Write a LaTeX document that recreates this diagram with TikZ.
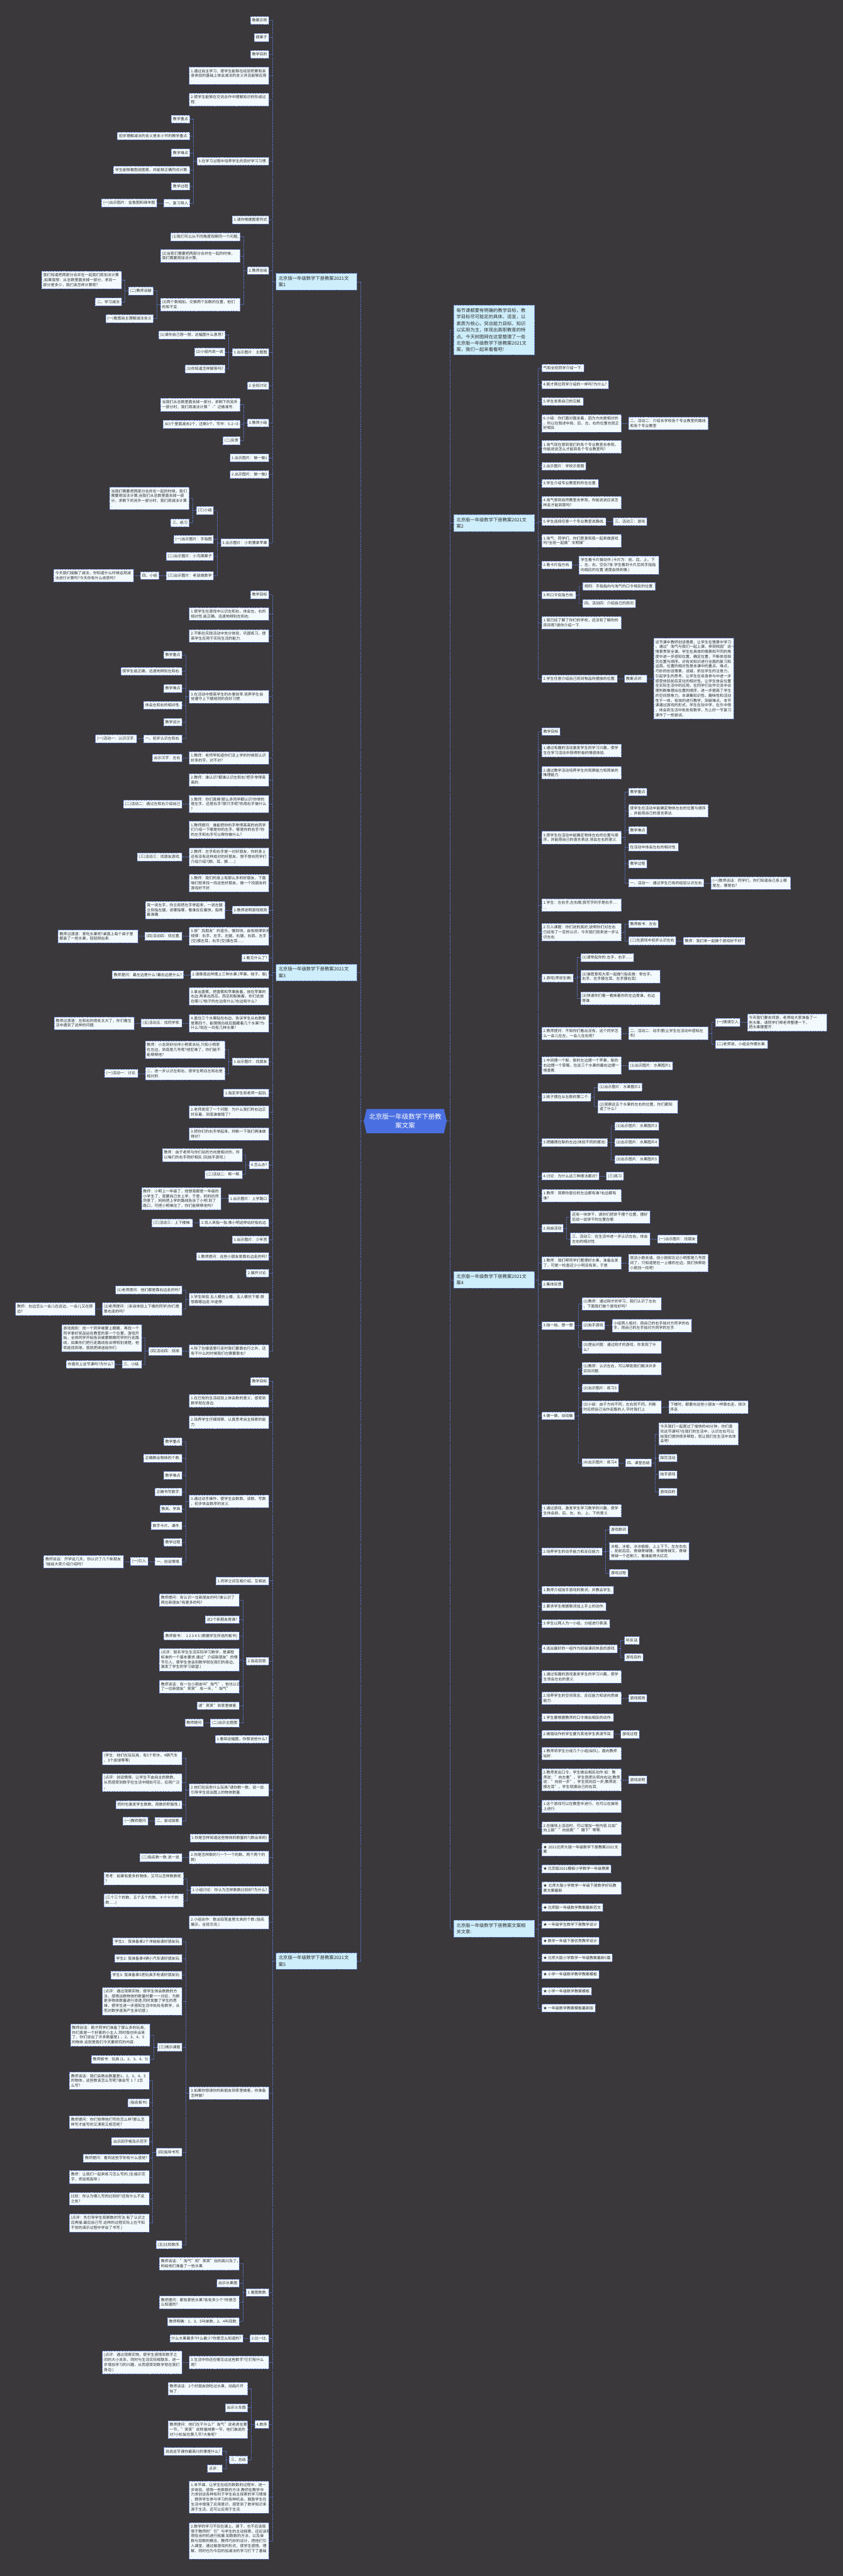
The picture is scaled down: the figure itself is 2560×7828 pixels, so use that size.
\documentclass[tikz,border=0pt]{standalone}
\usepackage{fontspec}
\setmainfont{Noto Sans CJK SC}
\usetikzlibrary{shapes.symbols}
\definecolor{bgc}{RGB}{58,56,58}
\definecolor{lnkblue}{RGB}{92,120,215}
\definecolor{leaffill}{RGB}{242,250,253}
\definecolor{brfill}{RGB}{206,238,251}
\definecolor{rootblue}{RGB}{74,111,224}
\definecolor{txtc}{RGB}{45,45,45}
\tikzset{
  leaf/.style={draw=lnkblue, dash pattern=on 3pt off 2pt, line width=0.8pt, fill=leaffill, text=txtc,
               font=\fontsize{11.5}{14.8}\selectfont, inner xsep=5pt, inner ysep=6.5pt, align=left},
  lf/.style={leaf, anchor=east, xshift=-21pt},
  rf/.style={leaf, anchor=west, xshift=21pt},
  wd/.style={text width=232pt},
  branch/.style={draw=lnkblue, dash pattern=on 3pt off 2pt, line width=0.8pt, fill=brfill, text=txtc,
                 font=\fontsize{14}{20}\selectfont, inner xsep=8pt, inner ysep=9pt, align=left, text width=229pt},
  lbr/.style={branch, anchor=east, xshift=-21pt},
  rbr/.style={branch, anchor=west, xshift=21pt},
  root/.style={signal, signal to=east and west, signal pointer angle=154, fill=rootblue, text=white,
               font=\fontsize{20}{26}\selectfont, align=center, inner xsep=7.5pt, inner ysep=14.5pt},
  lnk/.style={draw=lnkblue, dash pattern=on 3pt off 2pt, line width=1pt}
}
\begin{document}
\begin{tikzpicture}[x=1pt, y=-1pt]
\fill[bgc] (0,0) rectangle (2560,7828);
\useasboundingbox (0,0) rectangle (2560,7828);
\node[root] (root) at (1231,3407) {北京版一年级数学下册教\\案文案};
\node[lbr] (bA) at (root.west |- 0,856) {北京版一年级数学下册教案2021文\\案1};
\node[lbr] (bC) at (root.west |- 0,2955) {北京版一年级数学下册教案2021文\\案3};
\node[lbr] (bE) at (root.west |- 0,5959) {北京版一年级数学下册教案2021文\\案5};
\node[rbr] (bO) at (root.east |- 0,1003) {每节课都要有明确的教学目标，教\\学目标尽可能定的具体、适宜，以\\素质为核心，突出能力目标、知识\\以实用为主，体现出高职教育的特\\点。今天树图网在这里整理了一些\\北京版一年级数学下册教案2021文\\案，我们一起来看看吧!};
\node[rbr] (bB) at (root.east |- 0,1589) {北京版一年级数学下册教案2021文\\案2};
\node[rbr] (bD) at (root.east |- 0,3889) {北京版一年级数学下册教案2021文\\案4};
\node[rbr] (bF) at (root.east |- 0,5861) {北京版一年级数学下册教案文案相\\关文章:};

\node[lf] (A1) at (bA.west |- 0,62) {教案示例};
\node[lf] (A2) at (bA.west |- 0,114) {摘果子};
\node[lf] (A3) at (bA.west |- 0,165) {教学目的};
\node[lf, wd] (A4) at (bA.west |- 0,230) {1.通过自主学习，使学生能够在经验积累和亲\\身体验的基础上体会减法的含义并且能够应用\\.};
\node[lf, wd] (A5) at (bA.west |- 0,303) {2.使学生能够在交流合作中理解知识的形成过\\程.};
\node[lf] (A6) at (bA.west |- 0,490) {3.在学习过程中培养学生的良好学习习惯.};
\node[lf] (A6a) at (A6.west |- 0,362) {教学重点};
\node[lf] (A6b) at (A6.west |- 0,413) {初步理解减法的含义是本小节的教学重点.};
\node[lf] (A6c) at (A6.west |- 0,464) {教学难点};
\node[lf] (A6d) at (A6.west |- 0,516) {学生能够看图说图意，并能够正确列式计算.};
\node[lf] (A6e) at (A6.west |- 0,566) {教学过程};
\node[lf] (A6f) at (A6.west |- 0,617) {一、复习导入};
\node[lf] (A6f1) at (A6f.west |- 0,617) {(一)出示图片：金鱼图和绵羊图};
\node[lf] (A7) at (bA.west |- 0,668) {1.请你根据图意列式};
\node[lf] (A8) at (bA.west |- 0,822) {2.教师总结};
\node[lf] (A8a) at (A8.west |- 0,720) {(1)我们可以从不同角度观察同一个问题;};
\node[lf, wd] (A8b) at (A8.west |- 0,778) {(2)当我们需要把两部分合并在一起的时候，\\我们需要用加法计算;};
\node[lf, wd] (A8c) at (A8.west |- 0,926) {(3)两个数相加，交换两个加数的位置，他们\\的和不变.};
\node[lf] (A8c1) at (A8c.west |- 0,884) {(二)教师设疑};
\node[lf, wd] (A8c1a) at (A8c1.west |- 0,851) {我们知道把两部分合并在一起我们用加法计算\\;如果我想：从总数里面去掉一部分，求另一\\部分是多少，我们该怎样计算呢?};
\node[lf] (A8c1b) at (A8c1.west |- 0,917) {二、学习减法};
\node[lf] (A8c2) at (A8c.west |- 0,968) {(一)看图自主理解减法含义};
\node[lf] (A9) at (bA.west |- 0,1070) {1.出示图片：主题图};
\node[lf] (A9a) at (A9.west |- 0,1018) {(1)请你自己想一想，这幅图什么意思?};
\node[lf] (A9b) at (A9.west |- 0,1070) {(2)小组内说一说};
\node[lf] (A9c) at (A9.west |- 0,1121) {(3)你知道怎样解答吗?};
\node[lf] (A10) at (bA.west |- 0,1172) {2.全班讨论};
\node[lf] (A11) at (bA.west |- 0,1285) {3.教师小结};
\node[lf, wd] (A11a) at (A11.west |- 0,1230) {当我们从总数里面去掉一部分，求剩下的另外\\一部分时，我们用减法计算."-"记做减号.};
\node[lf] (A11b) at (A11.west |- 0,1289) {从5个里面减去2个，还剩3个，写作：5-2 =3};
\node[lf] (A11c) at (A11.west |- 0,1339) {(二)反馈};
\node[lf] (A12) at (bA.west |- 0,1391) {1.出示图片：做一做1};
\node[lf] (A13) at (bA.west |- 0,1442) {2.出示图片：做一做2};
\node[lf] (A14) at (bA.west |- 0,1649) {3.出示图片：小刺猬拿苹果};
\node[lf] (A14a) at (A14.west |- 0,1551) {(三)小结};
\node[lf, wd] (A14a1) at (A14a.west |- 0,1514) {当我们需要把两部分合并在一起的时候，我们\\需要用加法计算;当我们从总数里面去掉一部\\分，求剩下的另外一部分时，我们用减法计算\\.};
\node[lf] (A14a2) at (A14a.west |- 0,1589) {三、练习};
\node[lf] (A14b) at (A14.west |- 0,1639) {(一)出示图片：手指图};
\node[lf] (A14c) at (A14.west |- 0,1690) {(二)出示图片：小鸟摘果子};
\node[lf] (A14d) at (A14.west |- 0,1749) {(三)出示图片：老鼠做数学};
\node[lf] (A14d1) at (A14d.west |- 0,1749) {四、小结};
\node[lf, wd] (A14d1a) at (A14d1.west |- 0,1749) {今天我们接触了减法，你知道什么时候运用减\\法进行计算吗?今天你有什么收获吗?};

\node[lf] (C1) at (bC.west |- 0,1807) {教学目标};
\node[lf, wd] (C2) at (bC.west |- 0,1865) {1.使学生在游戏中认识左和右，体会左、右的\\相对性.能正确、迅速地辨别左和右.};
\node[lf, wd] (C3) at (bC.west |- 0,1932) {2.不断在实践活动中充分体验，巩固练习，提\\高学生应用于实际生活的能力.};
\node[lf, wd] (C4) at (bC.west |- 0,2117) {3.在活动中提高学生的办事效率.培养学生自\\觉遵守上下楼规则的良好习惯.};
\node[lf] (C4a) at (C4.west |- 0,1990) {教学重点};
\node[lf] (C4b) at (C4.west |- 0,2040) {使学生能正确、迅速地辨别左和右.};
\node[lf] (C4c) at (C4.west |- 0,2092) {教学难点};
\node[lf] (C4d) at (C4.west |- 0,2143) {体会左和右的相对性.};
\node[lf] (C4e) at (C4.west |- 0,2194) {教学设计};
\node[lf] (C4f) at (C4.west |- 0,2245) {一、初步认识左和右.};
\node[lf] (C4f1) at (C4f.west |- 0,2245) {(一)活动一：认识汉字.};
\node[lf, wd] (C5) at (bC.west |- 0,2303) {1.教师：老师早知道你们没上学的时候就认识\\好多的字，对不对?};
\node[lf] (C5a) at (C5.west |- 0,2303) {出示汉字：左右};
\node[lf, wd] (C6) at (bC.west |- 0,2370) {2.教师：谁认识?都谁认识左和右?把手举得高\\高的.};
\node[lf, wd] (C7) at (bC.west |- 0,2443) {3.教师：你们真棒!那么多同学都认识!你举的\\是左手，还是右手?那只手呢?你用右手做什么\\?};
\node[lf] (C7a) at (C7.west |- 0,2443) {(二)活动二：通过左和右介绍自己};
\node[lf, wd] (C8) at (bC.west |- 0,2522) {1.教师提问：谁能把你的手举得高高的向同学\\们介绍一下哪是你的左手，哪是你的右手?你\\的左手和右手可以帮你做什么?};
\node[lf, wd] (C9) at (bC.west |- 0,2604) {2.教师：左手和右手是一对好朋友，你的身上\\还有没有这样成对的好朋友，想不想向同学们\\介绍介绍?(眼、耳、脚......)};
\node[lf] (C9a) at (C9.west |- 0,2604) {(三)活动三：找朋友游戏.};
\node[lf, wd] (C10) at (bC.west |- 0,2684) {1.教师：我们的身上有那么多的好朋友，下面\\咱们就来找一找这些好朋友，做一个找朋友的\\游戏好不好.};
\node[lf] (C11) at (bC.west |- 0,2765) {2.教师说明游戏规则};
\node[lf, wd] (C11a) at (C11.west |- 0,2765) {我一说左手，你立刻把左手举起来，一说左腿\\立刻指左腿，说哪指哪，看谁反应最快，指得\\最准确.};
\node[lf, wd] (C12) at (bC.west |- 0,2845) {3.放"找朋友"的音乐，慢到快，由有规律到无\\规律：右手、左手、左腿、右腿、右肩、左手\\(空)摸左耳，右手(空)摸左耳......};
\node[lf] (C12a) at (C12.west |- 0,2845) {(四)活动四：找位置.};
\node[lf, wd] (C12a1) at (C12a.west |- 0,2845) {教师过渡语：爱吃水果吧?桌面上每个袋子里\\都装了一些水果，轻轻倒出来.};
\node[lf] (C13) at (bC.west |- 0,2911) {1.看见什么了?};
\node[lf] (C14) at (bC.west |- 0,2962) {2.请像我这样摆上三种水果.(苹果、桔子、梨)};
\node[lf] (C14a) at (C14.west |- 0,2962) {教师提问：最左边是什么?最右边是什么?};
\node[lf, wd] (C15) at (bC.west |- 0,3028) {3.拿出香蕉，把香蕉和苹果挨着，放在苹果的\\右边.再拿出西瓜，西瓜和梨挨着，你们说放\\在哪儿?桔子的左边有什么?右边有什么?};
\node[lf, wd] (C16) at (bC.west |- 0,3109) {4.盖住三个水果贴在右边，告诉学生从右数梨\\是第四个，能猜猜白纸后面藏着几个水果?为\\什么?现在一共有几种水果?};
\node[lf] (C16a) at (C16.west |- 0,3109) {(五)活动五：找同学家.};
\node[lf, wd] (C16a1) at (C16a.west |- 0,3109) {教师过渡语：左和右的用处太大了，你们看生\\活中遇到了这样的问题.};
\node[lf] (C17) at (bC.west |- 0,3226) {1.出示图片：找朋友};
\node[lf, wd] (C17a) at (C17.west |- 0,3190) {教师：小龙到好伙伴小明家去玩.只知小明家\\在左边，到底是几号呢?他犯难了，你们能不\\能帮帮他?};
\node[lf, wd] (C17b) at (C17.west |- 0,3262) {二、进一步认识左和右，使学生明白左和右是\\相对的.};
\node[lf] (C17b1) at (C17b.west |- 0,3262) {(一)活动一：讨论.};
\node[lf] (C18) at (bC.west |- 0,3321) {1.指定学生和老师一起玩.};
\node[lf, wd] (C19) at (bC.west |- 0,3379) {2.老师发现了一个问题：为什么我们的右边正\\好反着，到底谁做错了?};
\node[lf, wd] (C20) at (bC.west |- 0,3446) {3.把你们的右手举起来，判断一下我们俩谁做\\得对?};
\node[lf] (C21) at (bC.west |- 0,3540) {4.怎么办?};
\node[lf, wd] (C21a) at (C21.west |- 0,3510) {教师：由于老师与你们站的方向是相对的，所\\以咱们的右手刚好相反.(玩拍手游戏.)};
\node[lf] (C21b) at (C21.west |- 0,3569) {(二)活动二：帮一帮.};
\node[lf] (C22) at (bC.west |- 0,3642) {1.出示图片：上学路口};
\node[lf, wd] (C22a) at (C22.west |- 0,3642) {教师：小明上一年级了，他想我都是一年级的\\小学生了，我要自己去上学，于是，妈妈欣然\\同意了，妈妈把上学的路线告诉了小明.到了\\路口，可把小明难住了，你们能帮帮他吗?};
\node[lf] (C23) at (bC.west |- 0,3716) {2.找人来指一指.像小明这样站好指右边.};
\node[lf] (C23a) at (C23.west |- 0,3716) {(三)活动三：上下楼梯.};
\node[lf] (C24) at (bC.west |- 0,3767) {1.出示图片：少年宫};
\node[lf] (C25) at (bC.west |- 0,3818) {1.教师提问：这些小朋友是靠右边走的吗?};
\node[lf] (C26) at (bC.west |- 0,3869) {2.展开讨论.};
\node[lf, wd] (C27) at (bC.west |- 0,3949) {3.学生体验.五人模仿上楼，五人模仿下楼.想\\想靠哪边走.中途停.};
\node[lf] (C27a) at (C27.west |- 0,3920) {(1)老师提问：他们都是靠右边走的吗?};
\node[lf, wd] (C27b) at (C27.west |- 0,3978) {(2)老师提问：(亲自体验上下楼的同学)你们是\\靠右走的吗?};
\node[lf, wd] (C27b1) at (C27b.west |- 0,3978) {教师：右边怎么一会儿在这边，一会儿又在那\\边?};
\node[lf, wd] (C28) at (bC.west |- 0,4106) {4.除了在楼道里行走时我们要靠右行之外，还\\有干什么的时候我们也需要靠右?};
\node[lf] (C28a) at (C28.west |- 0,4106) {(四)活动四：找球.};
\node[lf, wd] (C28a1) at (C28a.west |- 0,4066) {游戏规则：找一个同学被蒙上眼睛，再找一个\\同学拿好奖品站在教室的某一个位置，游戏开\\始，全体同学开始告诉被蒙眼睛同学的行走路\\线，如果你们把行走路线告诉得特别清楚，他\\就能找到球，我就把球送给你们.};
\node[lf] (C28a2) at (C28a.west |- 0,4146) {三、小结.};
\node[lf] (C28a2a) at (C28a2.west |- 0,4146) {你喜欢上这节课吗?为什么?};

\node[lf] (E1) at (bE.west |- 0,4198) {教学目标};
\node[lf, wd] (E2) at (bE.west |- 0,4257) {1.在已有的生活经验上体会数的意义，感受到\\数学就在身边.};
\node[lf, wd] (E3) at (bE.west |- 0,4322) {2.培养学生仔细观察、认真思考自主探索的能\\力.};
\node[lf, wd] (E4) at (bE.west |- 0,4562) {3.通过动手操作，使学生会数数、读数、写数\\，初步体会数序的含义.};
\node[lf] (E4a) at (E4.west |- 0,4381) {教学重点};
\node[lf] (E4b) at (E4.west |- 0,4431) {正确数出物体的个数.};
\node[lf] (E4c) at (E4.west |- 0,4483) {教学难点};
\node[lf] (E4d) at (E4.west |- 0,4534) {正确书写数字.};
\node[lf] (E4e) at (E4.west |- 0,4585) {教具、学具};
\node[lf] (E4f) at (E4.west |- 0,4636) {数字卡片、课件.};
\node[lf] (E4g) at (E4.west |- 0,4687) {教学过程};
\node[lf] (E4h) at (E4.west |- 0,4745) {一、创设情境.};
\node[lf] (E4h1) at (E4h.west |- 0,4745) {(一)引入};
\node[lf, wd] (E4h1a) at (E4h1.west |- 0,4745) {教师谈话：开学这几天，你认识了几个新朋友\\?能给大家介绍介绍吗?};
\node[lf] (E5) at (bE.west |- 0,4804) {1.同学之间互相介绍、互相说.};
\node[lf] (E6) at (bE.west |- 0,5048) {2.指名回答.};
\node[lf, wd] (E6a) at (E6.west |- 0,4862) {教师提问：有认识一位新朋友的吗?谁认识了\\两位新朋友?有更多的吗?};
\node[lf] (E6b) at (E6.west |- 0,4921) {这2个新朋友是谁?};
\node[lf] (E6c) at (E6.west |- 0,4971) {教师板书：\ \ 1 2 3 4 5 (根据学生所说的板书)};
\node[lf, wd] (E6d) at (E6.west |- 0,5044) {(点评：联系学生生活实际学习数学，是课程\\标准的一个基本要求.通过"介绍新朋友"的情\\节引入，使学生体会到数学就在我们的身边，\\激发了学生的学习欲望.)};
\node[lf, wd] (E6e) at (E6.west |- 0,5125) {教师谈话：有一位小朋友叫"淘气"，他也认识\\了一位新朋友"笑笑".有一天，"淘气"};
\node[lf] (E6f) at (E6.west |- 0,5183) {请"笑笑"到家里做客.};
\node[lf] (E6g) at (E6.west |- 0,5235) {(二)出示主题图};
\node[lf] (E6g1) at (E6g.west |- 0,5235) {教师提问};
\node[lf] (E7) at (bE.west |- 0,5285) {1.看到这幅图，你想说些什么?};
\node[lf, wd] (E8) at (bE.west |- 0,5439) {2.他们在玩些什么玩具?请你数一数，说一说.\\引导学生说出图上的物体数量.};
\node[lf, wd] (E8a) at (E8.west |- 0,5343) {(学生：他们在玩玩具，有5个积木、4辆汽车\\、3个皮球等等)};
\node[lf, wd] (E8b) at (E8.west |- 0,5417) {(点评：创设情境，让学生不由自主的数数，\\从而感受到数字在生活中随处可见，应用广泛\\，};
\node[lf] (E8c) at (E8.west |- 0,5484) {同时也激发学生数数、用数的积极性.)};
\node[lf] (E8d) at (E8.west |- 0,5534) {二、尝试探索.};
\node[lf] (E8d1) at (E8d.west |- 0,5534) {(一)教师提问};
\node[lf] (E9) at (bE.west |- 0,5586) {1.你是怎样知道这些物体的数量的?(数出来的)};
\node[lf, wd] (E10) at (bE.west |- 0,5644) {2.你是怎样数的?(一个一个的数、两个两个的\\数)};
\node[lf] (E10a) at (E10.west |- 0,5644) {(二)指名数一数.说一说.};
\node[lf] (E11) at (bE.west |- 0,5743) {1.小组讨论：你认为怎样数数比较好?为什么?};
\node[lf, wd] (E11a) at (E11.west |- 0,5709) {思考：如果有更多的物体，又可以怎样数数呢\\?};
\node[lf, wd] (E11b) at (E11.west |- 0,5775) {(三个三个的数、五个五个的数、十个十个的\\数......)};
\node[lf, wd] (E12) at (bE.west |- 0,5841) {2.小组合作：数出铅笔盒里文具的个数.(指名\\展示，全班交流.)};
\node[lf, wd] (E13) at (bE.west |- 0,6360) {3.如果你想请你的新朋友到家里做客，你准备\\怎样做?};
\node[lf] (E13a) at (E13.west |- 0,5900) {学生1：我准备拿2个洋娃娃请好朋友玩.};
\node[lf] (E13b) at (E13.west |- 0,5951) {学生2: 我准备拿4辆小汽车请好朋友玩.};
\node[lf] (E13c) at (E13.west |- 0,6002) {学生3: 我准备拿5把玩具手枪请好朋友玩.};
\node[lf, wd] (E13d) at (E13.west |- 0,6081) {(点评：通过观察实物，使学生体会数数的方\\法，感悟出数物体的数量时要一一对应，为数\\更多物体数量进行渗透.同时发散了学生的思\\维，使学生进一步感知生活中处处有数学，从\\而对数学逐渐产生亲切感.)};
\node[lf] (E13e) at (E13.west |- 0,6221) {(三)揭示课题};
\node[lf, wd] (E13e1) at (E13e.west |- 0,6184) {教师谈话：刚才同学们准备了那么多的玩具，\\你们真是一个好客的小主人.同时我也听出来\\了，你们说出了许多数量是1~、2、3、4、5\\的物体.这就是我们今天要研究的内容.};
\node[lf] (E13e2) at (E13e.west |- 0,6258) {教师板书：玩具 (1、2、3、4、5)};
\node[lf] (E13f) at (E13.west |- 0,6540) {(四)指导书写.};
\node[lf, wd] (E13f1) at (E13f.west |- 0,6323) {教师谈话：我们会数出数量是1、2、3、4、5\\的物体，这些数该怎么写呢?谁会写~1~?~2怎\\么写?};
\node[lf] (E13f2) at (E13f.west |- 0,6390) {(指名板书)};
\node[lf, wd] (E13f3) at (E13f.west |- 0,6449) {教师提问：你们觉得他们写的怎么样?那么怎\\样写才能写的又漂亮又规范呢?};
\node[lf] (E13f4) at (E13f.west |- 0,6507) {出示田字格及示范字};
\node[lf] (E13f5) at (E13f.west |- 0,6558) {教师提问：看到这些字你有什么感觉?};
\node[lf, wd] (E13f6) at (E13f.west |- 0,6616) {教师：让我们一起来练习怎么写的.(生描示范\\字，师巡视指导.)};
\node[lf, wd] (E13f7) at (E13f.west |- 0,6681) {比较：你认为哪儿写的比较好?还有什么不足\\之处?};
\node[lf, wd] (E13f8) at (E13f.west |- 0,6755) {(点评：先引导学生观察数的写法.有了认识之\\后再描.最后自己写.这样的过程实际上在不知\\不觉的演示过程中学会了书写.)};
\node[lf] (E13g) at (E13.west |- 0,6821) {(五)比较数序.};
\node[lf] (E14) at (bE.west |- 0,6966) {1.看图数数.};
\node[lf, wd] (E14a) at (E14.west |- 0,6879) {教师谈话："淘气"和"笑笑"玩的高兴及了，妈\\妈给他们准备了一些水果.};
\node[lf] (E14b) at (E14.west |- 0,6938) {出示水果图};
\node[lf, wd] (E14c) at (E14.west |- 0,6996) {教师提问：都有那些水果?各有多少个?你是怎\\么知道的?};
\node[lf] (E14d) at (E14.west |- 0,7055) {教师明确：1、3、5叫单数，2、4叫双数.};
\node[lf] (E15) at (bE.west |- 0,7106) {2.比一比.};
\node[lf] (E15a) at (E15.west |- 0,7106) {什么水果最多?什么最少?你是怎么知道的?};
\node[lf, wd] (E16) at (bE.west |- 0,7179) {3.生活中你还在哪见过这些数字?它们有什么\\用?};
\node[lf, wd] (E16a) at (E16.west |- 0,7179) {(点评：通过观察实物，使学生感悟到数字之\\间的大小关系，同时与生活实际相联系，进一\\步增加学习的兴趣，从而感受到数学就在我们\\身边.)};
\node[lf] (E17) at (bE.west |- 0,7367) {4.数序};
\node[lf, wd] (E17a) at (E17.west |- 0,7259) {教师谈话：2个好朋友刚吃过水果，动画片开\\始了.};
\node[lf] (E17b) at (E17.west |- 0,7317) {出示火车图};
\node[lf, wd] (E17c) at (E17.west |- 0,7383) {教师提问：他们在干什么?"淘气"说老虎在第\\一节，"笑笑"说熊猫排第一节，他们谁说的\\对?小松鼠在第几节?大象呢?};
\node[lf] (E17d) at (E17.west |- 0,7475) {三、总结};
\node[lf] (E17d1) at (E17d.west |- 0,7449) {说说这节课你最高兴的事是什么?};
\node[lf] (E17d2) at (E17d.west |- 0,7501) {点评：};
\node[lf, wd] (E18) at (bE.west |- 0,7588) {1.本节课，让学生在经历数数的过程中，进一\\步体验、感悟一些数数的方法.教师在教学中\\力求创设各种有利于学生自主探索的学习情境\\，提供学生参与学习的各种机会，鼓励学生在\\生活中增强了应用意识，感受到了数学知识来\\源于生活，还可以应用于生活.};
\node[lf, wd] (E19) at (bE.west |- 0,7721) {2.数学的学习不仅在课上、课下，也不应该局\\限于教师的"引"与学生的主动探索，还应该利\\用恰当时机进行拓展.如数数的方法，以及单\\数与双数的概念，教师巧妙的设计，把他们引\\入课堂，通过做游戏的形式，使学生感悟、理\\解，同时也为今后的加减法的学习打下了基础\\.};

\node[rf] (B1) at (bB.east |- 0,1118) {气和全班同学介绍一下.};
\node[rf] (B2) at (bB.east |- 0,1169) {4.刚才两位同学介绍的一样吗?为什么?};
\node[rf] (B3) at (bB.east |- 0,1220) {5.学生发表自己的见解.};
\node[rf, wd] (B4) at (bB.east |- 0,1286) {6.小结：你们面对面坐着，因为方向是相对的\\，所以在叙述中前、后、左、右的位置也就正\\好相反.};
\node[rf, wd] (B4a) at (B4.east |- 0,1286) {二、活动二：介绍去学校各个专业教室的路线\\和各个专业教室};
\node[rf, wd] (B5) at (bB.east |- 0,1358) {1.淘气现在想到我们的各个专业教室去参观，\\你能说说怎么才能到各个专业教室吗?};
\node[rf] (B6) at (bB.east |- 0,1417) {2.出示图片：学校示意图};
\node[rf] (B7) at (bB.east |- 0,1469) {3.学生介绍专业教室的所在位置.};
\node[rf, wd] (B8) at (bB.east |- 0,1527) {4.淘气想到自然教室去参观，你能说说应该怎\\样走才能到那吗?};
\node[rf] (B9) at (bB.east |- 0,1585) {5.学生选择任意一个专业教室说路线.};
\node[rf] (B9a) at (B9.east |- 0,1585) {三、活动三：游戏};
\node[rf, wd] (B10) at (bB.east |- 0,1643) {1.淘气：同学们，你们愿意和我一起来做游戏\\吗?全班一起做"文明操".};
\node[rf] (B11) at (bB.east |- 0,1717) {2.看卡片指方向.};
\node[rf, wd] (B11a) at (B11.east |- 0,1717) {学生看卡片做动作.(卡片为：前、后、上、下\\、左、右、空白7张.学生看到卡片后将手指指\\向相应的位置.速度由快到慢.)};
\node[rf] (B12) at (bB.east |- 0,1808) {3.听口令反指方向.};
\node[rf] (B12a) at (B12.east |- 0,1782) {规则：手指指向与淘气的口令相反的位置.};
\node[rf] (B12b) at (B12.east |- 0,1834) {四、活动四：介绍自己的房间};
\node[rf, wd] (B13) at (bB.east |- 0,1892) {1.我已经了解了你们的学校，还没有了解你的\\房间呢?请你介绍一下.};
\node[rf] (B14) at (bB.east |- 0,2062) {2.学生任意介绍自己房间物品所摆放的位置.};
\node[rf] (B14a) at (B14.east |- 0,2062) {教案点评：};
\node[rf, wd] (B14a1) at (B14a.east |- 0,2062) {这节课中教师创设情景，让学生在情景中学习\\。通过"淘气与我们一起上课，参观校园"这一\\情景贯穿全课。学生在具体的情景和不同的角\\度中进一步感知位置、确定位置，不断体验探\\究位置与顺序。对有关知识进行全面的复习和\\运用。位置的相对性是本课中的重点、难点，\\巧妙的创设情景，设疑，抓住学生的注意力，\\引起学生的思考，让学生在亲身参与中进一步\\感受体验前后变化的相对性。让学生体会位置\\在实际生活中的应用，在同学们合作交流中合\\理判断推理出位置的顺序，进一步提高了学生\\的空间想象力。本课集知识性、趣味性和活动\\性于一体，有效的进行教学，突破难点。本节\\课通过游戏的形式，学生在玩中学，在乐中悟\\，体会到生活中处处有数学，为上好一节复习\\课作了一些尝试。};

\node[rf] (D1) at (bD.east |- 0,2223) {教学目标};
\node[rf, wd] (D2) at (bD.east |- 0,2281) {1.通过有趣的活动激发学生的学习兴趣，使学\\生在学习活动中获得积极的情感体验.};
\node[rf, wd] (D3) at (bD.east |- 0,2348) {2.通过教学活动培养学生的观察能力和简单的\\推理能力.};
\node[rf, wd] (D4) at (bD.east |- 0,2545) {3.使学生在活动中能确定物体左右的位置与顺\\序，并能用自己的语言表达.领会左右的意义.};
\node[rf] (D4a) at (D4.east |- 0,2406) {教学重点};
\node[rf, wd] (D4b) at (D4.east |- 0,2464) {使学生在活动中能确定物体左右的位置与顺序\\，并能用自己的语言表达.};
\node[rf] (D4c) at (D4.east |- 0,2523) {教学难点};
\node[rf] (D4d) at (D4.east |- 0,2574) {在活动中体会左右的相对性.};
\node[rf] (D4e) at (D4.east |- 0,2625) {教学过程};
\node[rf] (D4f) at (D4.east |- 0,2683) {一、活动一：通过学生已有的经验认识左右};
\node[rf, wd] (D4f1) at (D4f.east |- 0,2683) {(一)教师谈话：同学们，你们知道自己身上哪\\是左，哪是右?};
\node[rf, wd] (D5) at (bD.east |- 0,2750) {1.学生：左右手;左右眼;我写字的手是右手....\\...};
\node[rf, wd] (D6) at (bD.east |- 0,2833) {2.引入课题：你们说的真好,说明你们对左右\\已经有了一定的认识，今天我们就来进一步认\\识左右.};
\node[rf] (D6a) at (D6.east |- 0,2808) {教师板书：左右};
\node[rf] (D6b) at (D6.east |- 0,2859) {(二)在游戏中初步认识左右};
\node[rf] (D6b1) at (D6b.east |- 0,2859) {教师：我们来一起做个游戏好不好?};
\node[rf] (D7) at (bD.east |- 0,2972) {1.游戏(师说生做)};
\node[rf] (D7a) at (D7.east |- 0,2910) {(1)请举起你的.左手，右手......};
\node[rf, wd] (D7b) at (D7.east |- 0,2968) {(2)谁愿意和大家一起做?(指名做：举左手、\\右手、左手摸左耳、左手摸右耳)};
\node[rf, wd] (D7c) at (D7.east |- 0,3034) {(3)快请你们看一看挨着你的左边是谁，右边\\是谁.};
\node[rf, wd] (D8) at (bD.east |- 0,3140) {2.教师提问：不知你们看出没有，这个同学怎\\么一会儿在左，一会儿在右呢?};
\node[rf, wd] (D8a) at (D8.east |- 0,3140) {二、活动二：动手摆(让学生在活动中感知左\\右)};
\node[rf] (D8a1) at (D8a.east |- 0,3107) {(一)情境引入};
\node[rf, wd] (D8a1a) at (D8a1.east |- 0,3107) {今天我们要去郊游，老师给大家准备了一\\些水果，请同学们帮老师整理一下，\\把水果摆整齐.};
\node[rf] (D8a2) at (D8a.east |- 0,3173) {(二)老师说，小组合作摆水果.};
\node[rf, wd] (D9) at (bD.east |- 0,3238) {1.中间摆一个梨，梨的左边摆一个苹果，梨的\\右边摆一个草莓，在这三个水果的最右边摆一\\根香蕉.};
\node[rf] (D9a) at (D9.east |- 0,3238) {(1)出示图片：水果图片1};
\node[rf] (D10) at (bD.east |- 0,3334) {2.桃子摆在从左数的第二个.};
\node[rf] (D10a) at (D10.east |- 0,3304) {(1)出示图片：水果图片2};
\node[rf, wd] (D10b) at (D10.east |- 0,3363) {(2)观察这五个水果的左右的位置，你们都知\\道了什么?};
\node[rf] (D11) at (bD.east |- 0,3472) {3.把糖摆在梨的左边(体验不同的摆法)};
\node[rf] (D11a) at (D11.east |- 0,3422) {(1)出示图片：水果图片3};
\node[rf] (D11b) at (D11.east |- 0,3472) {(2)出示图片：水果图片4};
\node[rf] (D11c) at (D11.east |- 0,3524) {(3)出示图片：水果图片5};
\node[rf] (D12) at (bD.east |- 0,3574) {4.讨论：为什么这三种摆法都对?};
\node[rf] (D12a) at (D12.east |- 0,3574) {(三)练习};
\node[rf, wd] (D13) at (bD.east |- 0,3633) {1.教师：观察你座位的左边都有谁?右边都有\\谁?};
\node[rf] (D14) at (bD.east |- 0,3732) {2.自由活动};
\node[rf, wd] (D14a) at (D14.east |- 0,3698) {还有一块饼干，请你们把饼干摆个位置，摆好\\后说一说饼干的位置在哪.};
\node[rf, wd] (D14b) at (D14.east |- 0,3765) {三、活动三：在生活中进一步认识左右，体会\\左右的相对性.};
\node[rf] (D14b1) at (D14b.east |- 0,3765) {(一)出示图片：找朋友};
\node[rf, wd] (D15) at (bD.east |- 0,3838) {1.教师：我们帮同学们整理好水果，准备出发\\了，可是一检查还少小明没有来，于是};
\node[rf, wd] (D15a) at (D15.east |- 0,3838) {就派小刚去请，但小刚却忘记小明家是几号房\\间了，只知道是在一上楼的左边，我们快帮助\\小刚找一找吧!};
\node[rf] (D16) at (bD.east |- 0,3903) {2.集体反馈};
\node[rf] (D17) at (bD.east |- 0,4028) {3.拍一拍、想一想};
\node[rf, wd] (D17a) at (D17.east |- 0,3962) {(1)教师：通过刚才的学习，我们认识了左右\\，下面我们做个游戏好吗?};
\node[rf] (D17b) at (D17.east |- 0,4028) {(2)拍手游戏};
\node[rf, wd] (D17b1) at (D17b.east |- 0,4028) {小组两人相对，用自己的右手拍对方同学的右\\手，用自己的左手拍对方同学的左手.};
\node[rf, wd] (D17c) at (D17.east |- 0,4094) {(3)提出问题：通过刚才的游戏，你发现了什\\么?};
\node[rf] (D18) at (bD.east |- 0,4302) {4.做一做，动动脑};
\node[rf, wd] (D18a) at (D18.east |- 0,4159) {(1)教师：认识左右，可以帮助我们解决许多\\实际问题.};
\node[rf] (D18b) at (D18.east |- 0,4218) {(2)出示图片：练习3};
\node[rf, wd] (D18c) at (D18.east |- 0,4276) {(3)小结：由于方向不同，左右就不同，判断\\时应把自己当作走路的人.平时我们上};
\node[rf, wd] (D18c1) at (D18c.east |- 0,4276) {下楼时，都要向这些小朋友一样靠右走，按次\\序走.};
\node[rf] (D18d) at (D18.east |- 0,4445) {(4)出示图片：练习4};
\node[rf] (D18d1) at (D18d.east |- 0,4445) {四、课堂总结};
\node[rf, wd] (D18d1a) at (D18d1.east |- 0,4357) {今天我们一起度过了愉快的40分钟，你们喜\\欢这节课吗?在我们的生活中，认识左右可以\\给我们提供很多帮助，就让我们在生活中去体\\会吧!};
\node[rf] (D18d1b) at (D18d1.east |- 0,4430) {探究活动};
\node[rf] (D18d1c) at (D18d1.east |- 0,4481) {拍手游戏};
\node[rf] (D18d1d) at (D18d1.east |- 0,4533) {游戏目的};
\node[rf, wd] (D19) at (bD.east |- 0,4591) {1.通过游戏，激发学生学习数学的兴趣，使学\\生体会前、后、左、右、上、下的意义.};
\node[rf] (D20) at (bD.east |- 0,4715) {2.培养学生的动手能力和反应能力.};
\node[rf] (D20a) at (D20.east |- 0,4649) {游戏歌词};
\node[rf, wd] (D20b) at (D20.east |- 0,4714) {冰板、冰板，冰冰板板，上上下下、左左右右\\、前前后后，骨碌骨碌锤，骨碌骨碌叉，骨碌\\骨碌一个还剩三，看谁能得大红花.};
\node[rf] (D20c) at (D20.east |- 0,4780) {游戏过程};
\node[rf] (D21) at (bD.east |- 0,4832) {1.教师介绍拍手游戏的歌词，并教会学生.};
\node[rf] (D22) at (bD.east |- 0,4882) {2.要求学生根据歌词加上手上的动作.};
\node[rf] (D23) at (bD.east |- 0,4934) {3.学生以两人为一小组，分组进行表演.};
\node[rf] (D24) at (bD.east |- 0,5010) {4.选出最好的一组作为班级课间休息的游戏.};
\node[rf] (D24a) at (D24.east |- 0,4985) {听反话};
\node[rf] (D24b) at (D24.east |- 0,5036) {游戏目的};
\node[rf, wd] (D25) at (bD.east |- 0,5095) {1.通过有趣的游戏激发学生的学习兴趣，使学\\生领会左右的意义.};
\node[rf, wd] (D26) at (bD.east |- 0,5160) {2.培养学生的空间观念、反应能力和逆向思维\\能力.};
\node[rf] (D26a) at (D26.east |- 0,5160) {游戏规则};
\node[rf] (D27) at (bD.east |- 0,5219) {1.学生要根据教师的口令做出相反的动作.};
\node[rf] (D28) at (bD.east |- 0,5270) {2.做错动作的学生要为其他学生表演节目.};
\node[rf] (D28a) at (D28.east |- 0,5270) {游戏过程};
\node[rf, wd] (D29) at (bD.east |- 0,5328) {1.教师将学生分成几个小组(纵队)，面向教师\\站好.};
\node[rf, wd] (D30) at (bD.east |- 0,5408) {2.教师发出口令，学生做出相反动作.如：教\\师说："向左看"，学生就把头转向右边;教师\\说："向前一步"，学生就向后一步;教师说："\\摸左耳"，学生就摸自己的右耳.};
\node[rf] (D30a) at (D30.east |- 0,5408) {游戏说明};
\node[rf, wd] (D31) at (bD.east |- 0,5489) {1.这个游戏可以在教室中进行，也可以在操场\\上进行.};
\node[rf, wd] (D32) at (bD.east |- 0,5555) {2.在操场上活动时，可以增加一些内容.比如"\\向上跳""向前跑""蹲下"等等.};

\node[rf, wd] (F1) at (bF.east |- 0,5620) {★~2021北师大版一年级数学下册教案2021文\\案};
\node[rf] (F2) at (bF.east |- 0,5679) {★ 北京版2021模板小学数学一年级教案};
\node[rf, wd] (F3) at (bF.east |- 0,5737) {★~北师大版小学数学一年级下册数学好玩教\\案文案最新};
\node[rf] (F4) at (bF.east |- 0,5796) {★ 北师版一年级数学教案最新范文};
\node[rf] (F5) at (bF.east |- 0,5848) {★ 一年级学生数学下册教学设计};
\node[rf] (F6) at (bF.east |- 0,5898) {★ 数学一年级下册优秀教学设计};
\node[rf] (F7) at (bF.east |- 0,5949) {★ 北师大版小学数学一年级教案最新5篇};
\node[rf] (F8) at (bF.east |- 0,6000) {★ 小学一年级数学教学教案模板};
\node[rf] (F9) at (bF.east |- 0,6051) {★ 小学一年级数学教案模板};
\node[rf] (F10) at (bF.east |- 0,6102) {★ 一年级数学教案模板最新版};

\foreach \ch in {bA,bC,bE} \draw[lnk] (root.west) -- ++(-10,0) |- (\ch.east);
\foreach \ch in {bO,bB,bD,bF} \draw[lnk] (root.east) -- ++(10,0) |- (\ch.west);
\foreach \ch in {A1,A2,A3,A4,A5,A6,A7,A8,A9,A10,A11,A12,A13,A14} \draw[lnk] (bA.west) -- ++(-10,0) |- (\ch.east);
\foreach \ch in {A6a,A6b,A6c,A6d,A6e,A6f} \draw[lnk] (A6.west) -- ++(-10,0) |- (\ch.east);
\foreach \ch in {A8a,A8b,A8c} \draw[lnk] (A8.west) -- ++(-10,0) |- (\ch.east);
\foreach \ch in {A8c1,A8c2} \draw[lnk] (A8c.west) -- ++(-10,0) |- (\ch.east);
\foreach \ch in {A8c1a,A8c1b} \draw[lnk] (A8c1.west) -- ++(-10,0) |- (\ch.east);
\foreach \ch in {A9a,A9b,A9c} \draw[lnk] (A9.west) -- ++(-10,0) |- (\ch.east);
\foreach \ch in {A11a,A11b,A11c} \draw[lnk] (A11.west) -- ++(-10,0) |- (\ch.east);
\foreach \ch in {A14a,A14b,A14c,A14d} \draw[lnk] (A14.west) -- ++(-10,0) |- (\ch.east);
\foreach \ch in {A14a1,A14a2} \draw[lnk] (A14a.west) -- ++(-10,0) |- (\ch.east);
\foreach \p/\ch in {A6f/A6f1,A14d/A14d1,A14d1/A14d1a} \draw[lnk] (\p.west) -- ++(-10,0) |- (\ch.east);

\foreach \ch in {C1,C2,C3,C4,C5,C6,C7,C8,C9,C10,C11,C12,C13,C14,C15,C16,C17,C18,C19,C20,C21,C22,C23,C24,C25,C26,C27,C28} \draw[lnk] (bC.west) -- ++(-10,0) |- (\ch.east);
\foreach \ch in {C4a,C4b,C4c,C4d,C4e,C4f} \draw[lnk] (C4.west) -- ++(-10,0) |- (\ch.east);
\foreach \ch in {C17a,C17b} \draw[lnk] (C17.west) -- ++(-10,0) |- (\ch.east);
\foreach \ch in {C21a,C21b} \draw[lnk] (C21.west) -- ++(-10,0) |- (\ch.east);
\foreach \ch in {C27a,C27b} \draw[lnk] (C27.west) -- ++(-10,0) |- (\ch.east);
\foreach \ch in {C28a1,C28a2} \draw[lnk] (C28a.west) -- ++(-10,0) |- (\ch.east);
\foreach \p/\ch in {C4f/C4f1,C5/C5a,C7/C7a,C9/C9a,C11/C11a,C12/C12a,C12a/C12a1,C14/C14a,C16/C16a,C16a/C16a1,C17b/C17b1,C22/C22a,C23/C23a,C27b/C27b1,C28/C28a,C28a2/C28a2a} \draw[lnk] (\p.west) -- ++(-10,0) |- (\ch.east);

\foreach \ch in {E1,E2,E3,E4,E5,E6,E7,E8,E9,E10,E11,E12,E13,E14,E15,E16,E17,E18,E19} \draw[lnk] (bE.west) -- ++(-10,0) |- (\ch.east);
\foreach \ch in {E4a,E4b,E4c,E4d,E4e,E4f,E4g,E4h} \draw[lnk] (E4.west) -- ++(-10,0) |- (\ch.east);
\foreach \ch in {E6a,E6b,E6c,E6d,E6e,E6f,E6g} \draw[lnk] (E6.west) -- ++(-10,0) |- (\ch.east);
\foreach \ch in {E8a,E8b,E8c,E8d} \draw[lnk] (E8.west) -- ++(-10,0) |- (\ch.east);
\foreach \ch in {E11a,E11b} \draw[lnk] (E11.west) -- ++(-10,0) |- (\ch.east);
\foreach \ch in {E13a,E13b,E13c,E13d,E13e,E13f,E13g} \draw[lnk] (E13.west) -- ++(-10,0) |- (\ch.east);
\foreach \ch in {E13e1,E13e2} \draw[lnk] (E13e.west) -- ++(-10,0) |- (\ch.east);
\foreach \ch in {E13f1,E13f2,E13f3,E13f4,E13f5,E13f6,E13f7,E13f8} \draw[lnk] (E13f.west) -- ++(-10,0) |- (\ch.east);
\foreach \ch in {E14a,E14b,E14c,E14d} \draw[lnk] (E14.west) -- ++(-10,0) |- (\ch.east);
\foreach \ch in {E17a,E17b,E17c,E17d} \draw[lnk] (E17.west) -- ++(-10,0) |- (\ch.east);
\foreach \ch in {E17d1,E17d2} \draw[lnk] (E17d.west) -- ++(-10,0) |- (\ch.east);
\foreach \p/\ch in {E4h/E4h1,E4h1/E4h1a,E6g/E6g1,E8d/E8d1,E10/E10a,E15/E15a,E16/E16a} \draw[lnk] (\p.west) -- ++(-10,0) |- (\ch.east);

\foreach \ch in {B1,B2,B3,B4,B5,B6,B7,B8,B9,B10,B11,B12,B13,B14} \draw[lnk] (bB.east) -- ++(10,0) |- (\ch.west);
\foreach \ch in {B12a,B12b} \draw[lnk] (B12.east) -- ++(10,0) |- (\ch.west);
\foreach \p/\ch in {B4/B4a,B9/B9a,B11/B11a,B14/B14a,B14a/B14a1} \draw[lnk] (\p.east) -- ++(10,0) |- (\ch.west);

\foreach \ch in {D1,D2,D3,D4,D5,D6,D7,D8,D9,D10,D11,D12,D13,D14,D15,D16,D17,D18,D19,D20,D21,D22,D23,D24,D25,D26,D27,D28,D29,D30,D31,D32} \draw[lnk] (bD.east) -- ++(10,0) |- (\ch.west);
\foreach \ch in {D4a,D4b,D4c,D4d,D4e,D4f} \draw[lnk] (D4.east) -- ++(10,0) |- (\ch.west);
\foreach \ch in {D6a,D6b} \draw[lnk] (D6.east) -- ++(10,0) |- (\ch.west);
\foreach \ch in {D7a,D7b,D7c} \draw[lnk] (D7.east) -- ++(10,0) |- (\ch.west);
\foreach \ch in {D8a1,D8a2} \draw[lnk] (D8a.east) -- ++(10,0) |- (\ch.west);
\foreach \ch in {D10a,D10b} \draw[lnk] (D10.east) -- ++(10,0) |- (\ch.west);
\foreach \ch in {D11a,D11b,D11c} \draw[lnk] (D11.east) -- ++(10,0) |- (\ch.west);
\foreach \ch in {D14a,D14b} \draw[lnk] (D14.east) -- ++(10,0) |- (\ch.west);
\foreach \ch in {D17a,D17b,D17c} \draw[lnk] (D17.east) -- ++(10,0) |- (\ch.west);
\foreach \ch in {D18a,D18b,D18c,D18d} \draw[lnk] (D18.east) -- ++(10,0) |- (\ch.west);
\foreach \ch in {D18d1a,D18d1b,D18d1c,D18d1d} \draw[lnk] (D18d1.east) -- ++(10,0) |- (\ch.west);
\foreach \ch in {D20a,D20b,D20c} \draw[lnk] (D20.east) -- ++(10,0) |- (\ch.west);
\foreach \ch in {D24a,D24b} \draw[lnk] (D24.east) -- ++(10,0) |- (\ch.west);
\foreach \p/\ch in {D4f/D4f1,D6b/D6b1,D8/D8a,D8a1/D8a1a,D9/D9a,D12/D12a,D14b/D14b1,D15/D15a,D17b/D17b1,D18c/D18c1,D18d/D18d1,D26/D26a,D28/D28a,D30/D30a} \draw[lnk] (\p.east) -- ++(10,0) |- (\ch.west);

\foreach \ch in {F1,F2,F3,F4,F5,F6,F7,F8,F9,F10} \draw[lnk] (bF.east) -- ++(10,0) |- (\ch.west);
\end{tikzpicture}
\end{document}
